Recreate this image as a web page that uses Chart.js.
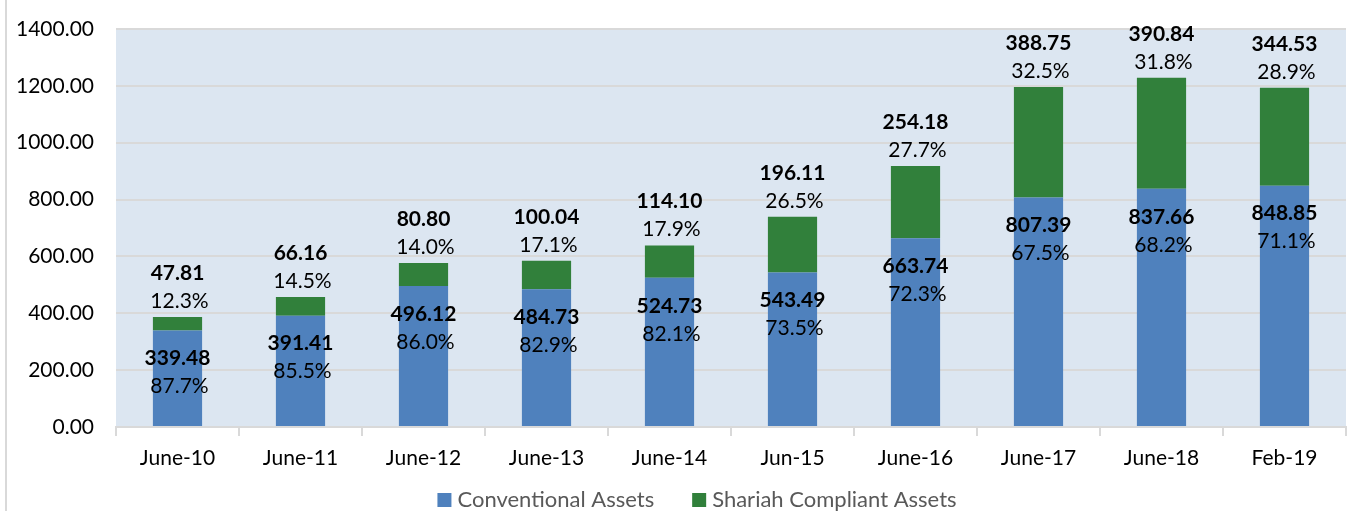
<!DOCTYPE html>
<html>
<head>
<meta charset="utf-8">
<script src="https://cdn.jsdelivr.net/npm/chart.js@4"></script>
<style>
html,body{margin:0;padding:0;background:#fff;}
#wrap{position:relative;width:1350px;height:511px;}
#wrap:before{content:"";position:absolute;left:5px;top:0;width:2px;height:511px;background:#d9d9d9;}
canvas{display:block;}
</style>
</head>
<body>
<div id="wrap"><canvas id="c" width="1350" height="511"></canvas></div>
<script>
const categories = ["June-10","June-11","June-12","June-13","June-14","Jun-15","June-16","June-17","June-18","Feb-19"];
const conventional = [339.48,391.41,496.12,484.73,524.73,543.49,663.74,807.39,837.66,848.85];
const shariah = [47.81,66.16,80.80,100.04,114.10,196.11,254.18,388.75,390.84,344.53];
const conventionalPct = ["87.7%","85.5%","86.0%","82.9%","82.1%","73.5%","72.3%","67.5%","68.2%","71.1%"];
const shariahPct = ["12.3%","14.5%","14.0%","17.1%","17.9%","26.5%","27.7%","32.5%","31.8%","28.9%"];
const yTicks = [0,200,400,600,800,1000,1200,1400];

const FONT = "Lato, 'Liberation Sans', sans-serif";

const bgPlugin = {
  id:'bg',
  beforeDraw(chart){
    const {ctx, chartArea:a} = chart;
    ctx.save();
    ctx.fillStyle = '#dce6f1';
    ctx.fillRect(a.left, a.top, a.right-a.left, a.bottom-a.top);
    ctx.restore();
  }
};

const labelPlugin = {
  id:'labels',
  afterDatasetsDraw(chart){
    const ctx = chart.ctx;
    const m0 = chart.getDatasetMeta(0), m1 = chart.getDatasetMeta(1);
    ctx.save();
    ctx.textAlign = 'center';
    ctx.textBaseline = 'middle';
    ctx.fillStyle = '#000';
    m0.data.forEach((bar,i)=>{
      ctx.font = "bold 21px " + FONT;
      ctx.fillText(conventional[i].toFixed(2), bar.x, bar.y + 28);
      ctx.font = "21px " + FONT;
      ctx.fillText(conventionalPct[i], bar.x + 2, bar.y + 56);
    });
    m1.data.forEach((bar,i)=>{
      ctx.font = "bold 21px " + FONT;
      ctx.fillText(shariah[i].toFixed(2), bar.x, bar.y - 44);
      ctx.font = "21px " + FONT;
      ctx.fillText(shariahPct[i], bar.x + 2, bar.y - 16);
    });
    ctx.restore();
  }
};

const legendPlugin = {
  id:'customLegend',
  afterDraw(chart){
    const ctx = chart.ctx;
    const items = chart.data.datasets.map(d=>({text:d.label, color:d.backgroundColor}));
    ctx.save();
    ctx.font = "22px " + FONT;
    const box = 14, gapBox = 6, gapItem = 38;
    const widths = items.map(it => box + gapBox + ctx.measureText(it.text).width);
    const total = widths.reduce((a,b)=>a+b,0) + gapItem*(items.length-1);
    let x = chart.width/2 + 22 - total/2;
    const y = 500;
    ctx.textBaseline = 'middle';
    ctx.textAlign = 'left';
    items.forEach((it,i)=>{
      ctx.fillStyle = it.color;
      ctx.fillRect(x, y - box/2, box, box);
      ctx.fillStyle = '#595959';
      ctx.fillText(it.text, x + box + gapBox, y);
      x += widths[i] + gapItem;
    });
    ctx.restore();
  }
};

new Chart(document.getElementById('c'), {
  type:'bar',
  data:{
    labels: categories,
    datasets:[
      {label:'Conventional Assets', data: conventional, backgroundColor:'#4f81bd', barPercentage:0.4, categoryPercentage:1},
      {label:'Shariah Compliant Assets', data: shariah, backgroundColor:'#31803b', barPercentage:0.4, categoryPercentage:1}
    ]
  },
  options:{
    responsive:false,
    animation:false,
    layout:{padding:{left:0,right:4,top:29,bottom:0}},
    plugins:{
      tooltip:{enabled:false},
      legend:{display:false}
    },
    scales:{
      x:{
        stacked:true,
        grid:{drawOnChartArea:false, drawTicks:true, tickLength:9, color:'#d9d9d9', lineWidth:2},
        border:{display:true, color:'#d9d9d9', width:2},
        ticks:{color:'#000', font:{family:FONT, size:21}, padding:10},
        afterFit(s){ s.height = 84; s.paddingLeft = 0; s.paddingRight = 0; }
      },
      y:{
        stacked:true,
        min:0, max:1400,
        afterBuildTicks(s){ s.ticks = yTicks.map(v=>({value:v})); },
        grid:{color:'#d9d9d9', lineWidth:2, drawTicks:false},
        border:{display:false},
        ticks:{color:'#000', font:{family:FONT, size:21}, padding:22,
          callback:(v)=>Number(v).toFixed(2)},
        afterFit(s){ s.width = 116; s.paddingTop = 0; s.paddingBottom = 0; }
      }
    }
  },
  plugins:[bgPlugin,labelPlugin,legendPlugin]
});
</script>
</body>
</html>
